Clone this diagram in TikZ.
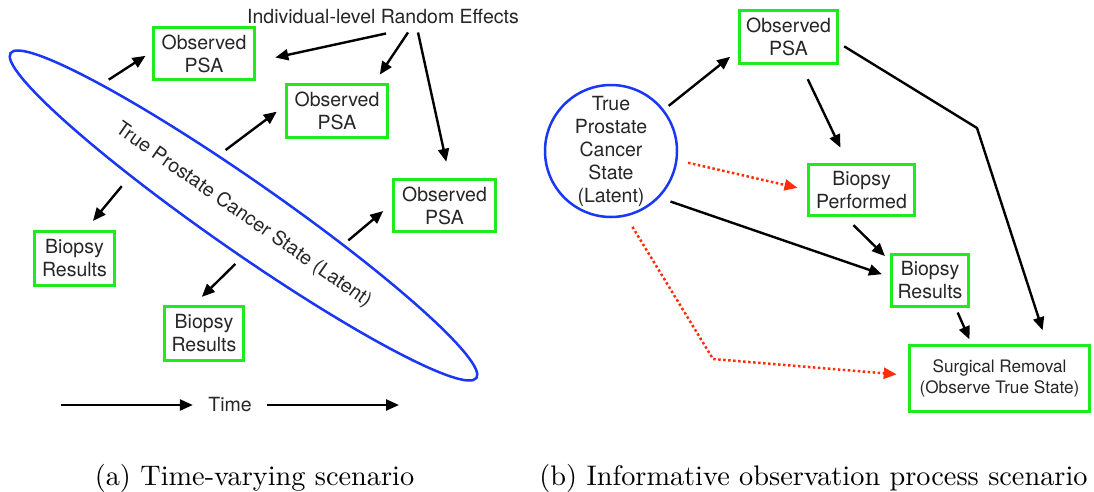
\documentclass[tikz,border=0pt]{standalone}
\usepackage{fontspec}
\setsansfont{TeX Gyre Heros}
\usetikzlibrary{arrows.meta,shapes.geometric}
\definecolor{boxgreen}{RGB}{30,235,30}
\definecolor{latblue}{RGB}{25,55,245}
\definecolor{dotred}{RGB}{255,45,10}
\definecolor{txtgray}{RGB}{38,38,38}
\newcommand\diagfont{\sffamily\fontsize{19.5}{23}\selectfont}
\newcommand\surgfont{\sffamily\fontsize{17.2}{20.5}\selectfont}
\begin{document}
\begin{tikzpicture}[x=1pt,y=-1pt,
  box/.style={draw=boxgreen, line width=2.6pt, align=center, inner sep=0pt, text=txtgray, font=\diagfont},
  arr/.style={-{Triangle[length=13pt,width=11pt]}, line width=2.4pt, black},
  rarr/.style={-{Triangle[length=13pt,width=11pt]}, line width=2.5pt, dotred, dash pattern=on 2.5pt off 2.5pt},
  lbl/.style={inner sep=0pt, text=txtgray, font=\diagfont},
  captext/.style={anchor=base, inner sep=0pt, scale=2.83}]
\useasboundingbox (0,0) rectangle (1094,491);
\fill[white] (0,0) rectangle (1094,491);

% ---------- (a) ----------
\node[ellipse, draw=latblue, line width=2.5pt, minimum width=568, minimum height=70,
      inner sep=0pt, rotate=-34.9, text=txtgray, font=\diagfont] (lat) at (243.5,215.5)
      {True Prostate Cancer State (Latent)};
\node[lbl, anchor=base] (re) at (383,23.5) {Individual-level Random Effects};
\node[box, minimum width=101.5, minimum height=52.5] (psa1) at (204,53.5) {Observed\\PSA};
\node[box, minimum width=101.5, minimum height=53.5] (psa2) at (337,111) {Observed\\PSA};
\node[box, minimum width=102.5, minimum height=52.5] (psa3) at (444.5,205.5) {Observed\\PSA};
\node[box, minimum width=80.5, minimum height=54.5] (bio1) at (74.5,258.5) {Biopsy\\Results};
\node[box, minimum width=79.5, minimum height=54.5] (bio2) at (204,333.5) {Biopsy\\Results};
\node[lbl] (time) at (230,405) {Time};
\coordinate (t0) at (61,405);
\coordinate (t1) at (399,405);

\draw[arr, shorten <=8pt, shorten >=7.6pt] (lat.172) -- (psa1.178);
\draw[arr, shorten <=8.3pt, shorten >=10.2pt] (lat.147.9) -- (psa2.174.2);
\draw[arr, shorten <=5.8pt, shorten >=11.4pt] (lat.19.7) -- (psa3.178);
\draw[arr, shorten <=12.5pt, shorten >=11.7pt] (lat.196.6) -- (bio1.69.4);
\draw[arr, shorten <=8.4pt, shorten >=11.5pt] (lat.302.7) -- (bio2.110.2);

\draw[arr, shorten >=19.7pt] ([shift={(3,9.5)}]re.south) -- (psa1.351.3);
\draw[arr, shorten >=10pt] ([shift={(25,8.5)}]re.south) -- (psa2.37);
\draw[arr, shorten >=16.6pt] ([shift={(35,8.5)}]re.south) -- (psa3.79.2);

\draw[arr, shorten >=15.3pt] (t0) -- (time.west);
\draw[arr, shorten <=15.3pt] (time.east) -- (t1);

% ---------- (b) ----------
\node[circle, draw=latblue, line width=2.5pt, minimum size=132, inner sep=0pt,
      align=center, text=txtgray, font=\diagfont] (circ) at (611,151)
      {True\\Prostate\\Cancer\\State\\(Latent)};
\node[box, minimum width=98.5, minimum height=53.5] (psaR) at (788.5,37) {Observed\\PSA};
\node[box, minimum width=106.5, minimum height=51.5] (bp) at (861.5,190) {Biopsy\\Performed};
\node[box, minimum width=77.5, minimum height=52.5] (brR) at (930,280.5) {Biopsy\\Results};
\node[box, minimum width=180.5, minimum height=66.5, font=\surgfont] (surg) at (999.5,378.5)
      {Surgical Removal\\(Observe True State)};
\coordinate (bend) at (977,128);
\coordinate (rc) at (713,359);

\draw[arr, shorten <=6pt, shorten >=10pt] (circ.38) -- (psaR.195);
\draw[arr, shorten <=15.7pt, shorten >=17pt] (psaR.294) -- (bp.117);
\draw[arr, shorten <=6pt, shorten >=14.4pt] (psaR.353) -- (bend) -- (surg.36.6);
\draw[rarr, shorten <=10.7pt, shorten >=9.7pt] (circ.352) -- (bp.west);
\draw[arr, shorten <=11.8pt, shorten >=8.5pt] (circ.316) -- (brR.175);
\draw[arr, shorten <=11.6pt, shorten >=7pt] (bp.239) -- (brR.154);
\draw[arr, shorten <=4.9pt, shorten >=5pt] (brR.313) -- (surg.129);
\draw[rarr, shorten <=12.1pt, shorten >=11.3pt] (circ.283) -- (rc) -- (surg.178);

% ---------- captions ----------
\node[captext] (capa) at (254.5,485) {(a) Time-varying scenario};
\node[captext] (capb) at (813.5,485) {(b) Informative observation process scenario};
\end{tikzpicture}
\end{document}
